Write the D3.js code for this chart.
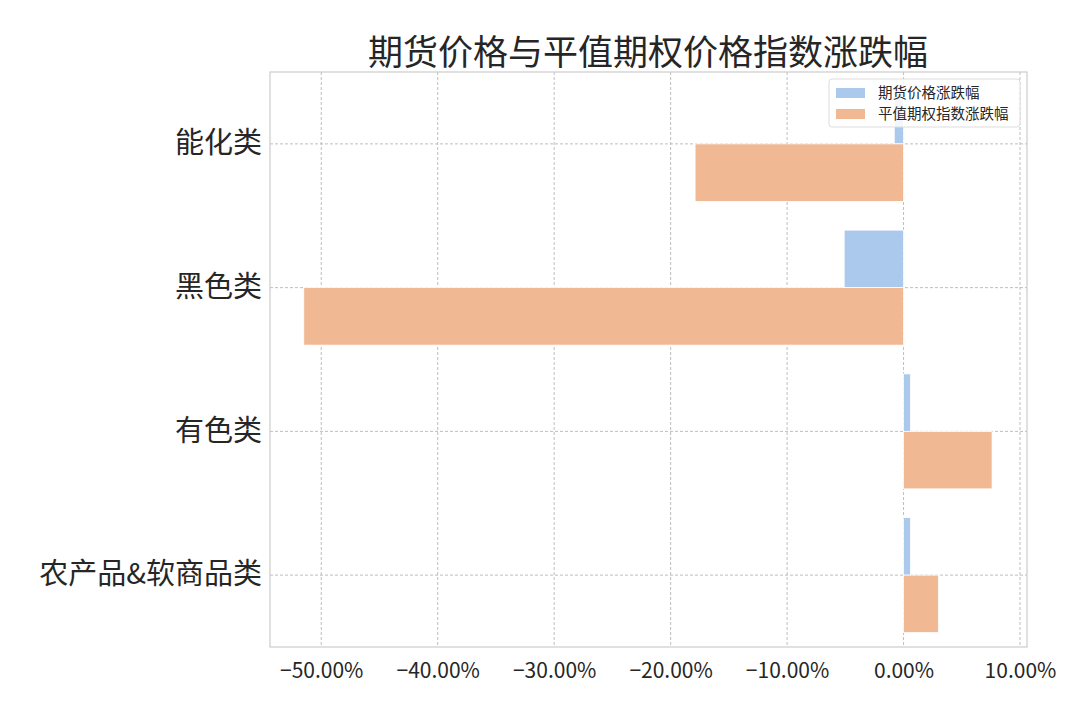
<!DOCTYPE html>
<html>
<head>
<meta charset="utf-8">
<script src="https://cdn.jsdelivr.net/npm/d3@7"></script>
<style>
  body { margin: 0; background: #fff; }
  text { font-family: "Noto Sans CJK SC", "Noto Sans", sans-serif; fill: #262626; }
</style>
</head>
<body>
<div id="chart"></div>
<script>
// data
let categories = ["能化类", "黑色类", "有色类", "农产品&软商品类"];
let seriesNames = ["期货价格涨跌幅", "平值期权指数涨跌幅"];
let futuresChange = [-0.008, -0.051, 0.006, 0.006];
let optionChange = [-0.179, -0.515, 0.076, 0.030];
let xTicks = [-0.5, -0.4, -0.3, -0.2, -0.1, 0, 0.1];
let colors = ["#abc9ec", "#f0b893"];

/** CONSTANTS */
let width = 1080,
  height = 720,
  margin = { top: 72, bottom: 73, left: 270, right: 53 };

let table = categories.map((c, i) => ({ cat: c, values: [futuresChange[i], optionChange[i]] }));

/** SCALES */
let xScale = d3.scaleLinear()
  .domain([-0.544, 0.106])
  .range([margin.left, width - margin.right]);

let yScale = d3.scaleBand()
  .domain(categories)
  .range([margin.top, height - margin.bottom])
  .paddingInner(0.2)
  .paddingOuter(0.1);

let subScale = d3.scaleBand()
  .domain([0, 1])
  .range([0, yScale.bandwidth()]);

let svg = d3.select("#chart").append("svg")
  .attr("width", width)
  .attr("height", height);

// grid
let grid = svg.append("g").attr("class", "grid");
grid.selectAll("line.vx")
  .data(xTicks)
  .join("line")
  .attr("x1", d => xScale(d)).attr("x2", d => xScale(d))
  .attr("y1", margin.top).attr("y2", height - margin.bottom)
  .attr("stroke", "#adadad").attr("stroke-width", 0.8)
  .attr("stroke-dasharray", "3,2");
grid.selectAll("line.hy")
  .data(categories)
  .join("line")
  .attr("x1", margin.left).attr("x2", width - margin.right)
  .attr("y1", d => yScale(d) + yScale.bandwidth() / 2)
  .attr("y2", d => yScale(d) + yScale.bandwidth() / 2)
  .attr("stroke", "#adadad").attr("stroke-width", 0.8)
  .attr("stroke-dasharray", "3,2");

// bars
let groups = svg.selectAll("g.cat")
  .data(table)
  .join("g")
  .attr("class", "cat")
  .attr("transform", d => `translate(0, ${yScale(d.cat)})`);

groups.selectAll("rect")
  .data(d => d.values.map((v, k) => ({ v, k })))
  .join("rect")
  .attr("x", d => xScale(Math.min(0, d.v)))
  .attr("y", d => subScale(d.k))
  .attr("width", d => Math.abs(xScale(d.v) - xScale(0)))
  .attr("height", subScale.bandwidth())
  .attr("fill", d => colors[d.k])
  .attr("stroke", "#fff")
  .attr("stroke-width", 0.8);

// frame
svg.append("rect")
  .attr("x", margin.left).attr("y", margin.top)
  .attr("width", width - margin.left - margin.right)
  .attr("height", height - margin.top - margin.bottom)
  .attr("fill", "none")
  .attr("stroke", "#cccccc")
  .attr("stroke-width", 1.2);

// axes
let xAxis = d3.axisBottom(xScale)
  .tickValues(xTicks)
  .tickSize(0)
  .tickPadding(16)
  .tickFormat(d => d3.format(".2f")(d * 100).replace("-", "−") + "%");

svg.append("g")
  .attr("class", "axis")
  .attr("transform", `translate(0, ${height - margin.bottom})`)
  .call(xAxis)
  .call(g => g.select(".domain").remove())
  .call(g => g.selectAll("text")
    .attr("font-size", 21)
    .attr("fill", "#262626")
    .style("font-family", "'Noto Sans CJK SC'"));

let yAxis = d3.axisLeft(yScale).tickSize(0).tickPadding(8);
svg.append("g")
  .attr("class", "axis")
  .attr("transform", `translate(${margin.left}, 0)`)
  .call(yAxis)
  .call(g => g.select(".domain").remove())
  .call(g => g.selectAll("text")
    .attr("font-size", 29)
    .attr("fill", "#262626")
    .style("font-family", "'Noto Sans CJK SC'"));

// title
svg.append("text")
  .attr("x", 648)
  .attr("y", 65)
  .attr("text-anchor", "middle")
  .attr("font-size", 35)
  .text("期货价格与平值期权价格指数涨跌幅");

// legend
let legend = svg.append("g").attr("transform", "translate(829, 79)");
legend.append("rect")
  .attr("width", 191).attr("height", 48)
  .attr("rx", 3)
  .attr("fill", "#fff").attr("fill-opacity", 0.85)
  .attr("stroke", "#dddddd").attr("stroke-width", 1);
let items = legend.selectAll("g.item")
  .data(seriesNames)
  .join("g")
  .attr("class", "item")
  .attr("transform", (d, i) => `translate(7, ${9 + i * 21})`);
items.append("rect")
  .attr("width", 29).attr("height", 10)
  .attr("fill", (d, i) => colors[i]);
items.append("text")
  .attr("x", 42).attr("y", 10)
  .attr("font-size", 14.5)
  .text(d => d);
</script>
</body>
</html>
